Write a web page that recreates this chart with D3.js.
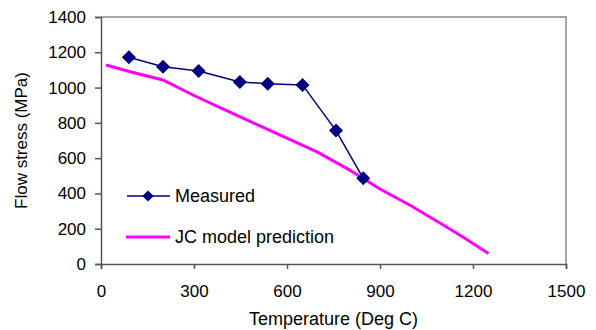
<!DOCTYPE html>
<html>
<head>
<meta charset="utf-8">
<script src="https://cdn.jsdelivr.net/npm/d3@7"></script>
<style>
  body { margin: 0; background: #fff; }
  svg text { font-family: "Liberation Sans", Arial, sans-serif; fill: #000; }
</style>
</head>
<body>
<svg id="chart" width="596" height="330"></svg>
<script>
// measured flow stress
const measuredTemp = [90, 200, 315, 448, 538, 650, 758, 846];
const measuredStress = [1172, 1118, 1094, 1032, 1022, 1015, 756, 486];

// Johnson-Cook model curve
const jcTemp = [16, 100, 200, 300, 400, 500, 600, 700, 800, 900, 1000, 1100, 1170, 1250];
const jcStress = [1128, 1087, 1043, 955, 874, 793, 713, 633, 535, 425, 330, 225, 150, 60];

const xTicks = [0, 300, 600, 900, 1200, 1500];
const yTicks = [0, 200, 400, 600, 800, 1000, 1200, 1400];

const svg = d3.select("#chart");
const plotL = 101, plotR = 566, plotT = 17, plotB = 264;

const x = d3.scaleLinear().domain([0, 1500]).range([plotL, plotR]);
const y = d3.scaleLinear().domain([0, 1400]).range([plotB, plotT]);

// plot area border (top/right light grey)
svg.append("path")
  .attr("d", `M${plotL},${plotT}H${plotR}V${plotB}`)
  .attr("fill", "none")
  .attr("stroke", "#a6a6a6")
  .attr("stroke-width", 2);

// axes
const xAxis = svg.append("g")
  .attr("transform", "translate(0," + plotB + ")")
  .call(d3.axisBottom(x).tickValues(xTicks).tickFormat(d3.format("d")).tickSize(5).tickPadding(16));
const yAxis = svg.append("g")
  .attr("transform", "translate(" + plotL + ",0)")
  .call(d3.axisLeft(y).tickValues(yTicks).tickFormat(d3.format("d")).tickSize(6).tickPadding(9));

[xAxis, yAxis].forEach(g => {
  g.select(".domain").attr("stroke", "#555").attr("stroke-width", 1.5);
  g.selectAll(".tick line").attr("stroke", "#555").attr("stroke-width", 1.5);
  g.selectAll(".tick text").style("font-size", "17px").attr("fill", "#000");
});

// JC line
const jc = jcTemp.map((t, i) => [t, jcStress[i]]);
svg.append("path")
  .datum(jc)
  .attr("fill", "none")
  .attr("stroke", "#ff00ff")
  .attr("stroke-width", 3)
  .attr("d", d3.line().x(d => x(d[0])).y(d => y(d[1])));

// measured line + diamonds
const meas = measuredTemp.map((t, i) => [t, measuredStress[i]]);
svg.append("path")
  .datum(meas)
  .attr("fill", "none")
  .attr("stroke", "#000080")
  .attr("stroke-width", 1.5)
  .attr("d", d3.line().x(d => x(d[0])).y(d => y(d[1])));

const diamond = d3.symbol().type(d3.symbolDiamond2).size(125);
svg.selectAll(".pt")
  .data(meas)
  .enter()
  .append("path")
  .attr("class", "pt")
  .attr("transform", d => "translate(" + x(d[0]) + "," + y(d[1]) + ")")
  .attr("d", diamond)
  .attr("fill", "#000080");

// legend
const leg = svg.append("g");
leg.append("line").attr("x1", 127).attr("x2", 170).attr("y1", 196).attr("y2", 196)
  .attr("stroke", "#000080").attr("stroke-width", 1.5);
leg.append("path").attr("transform", "translate(148,196)")
  .attr("d", d3.symbol().type(d3.symbolDiamond2).size(80)).attr("fill", "#000080");
leg.append("text").attr("x", 175).attr("y", 202).style("font-size", "18px").text("Measured");
leg.append("line").attr("x1", 126).attr("x2", 170).attr("y1", 237).attr("y2", 237)
  .attr("stroke", "#ff00ff").attr("stroke-width", 3);
leg.append("text").attr("x", 175).attr("y", 243).style("font-size", "18px").text("JC model prediction");

// axis titles
svg.append("text")
  .attr("x", (plotL + plotR) / 2).attr("y", 325)
  .attr("text-anchor", "middle")
  .style("font-size", "18px")
  .text("Temperature (Deg C)");
svg.append("text")
  .attr("transform", "translate(27," + ((plotT + plotB) / 2) + ") rotate(-90)")
  .attr("text-anchor", "middle")
  .style("font-size", "17px")
  .text("Flow stress (MPa)");
</script>
</body>
</html>
